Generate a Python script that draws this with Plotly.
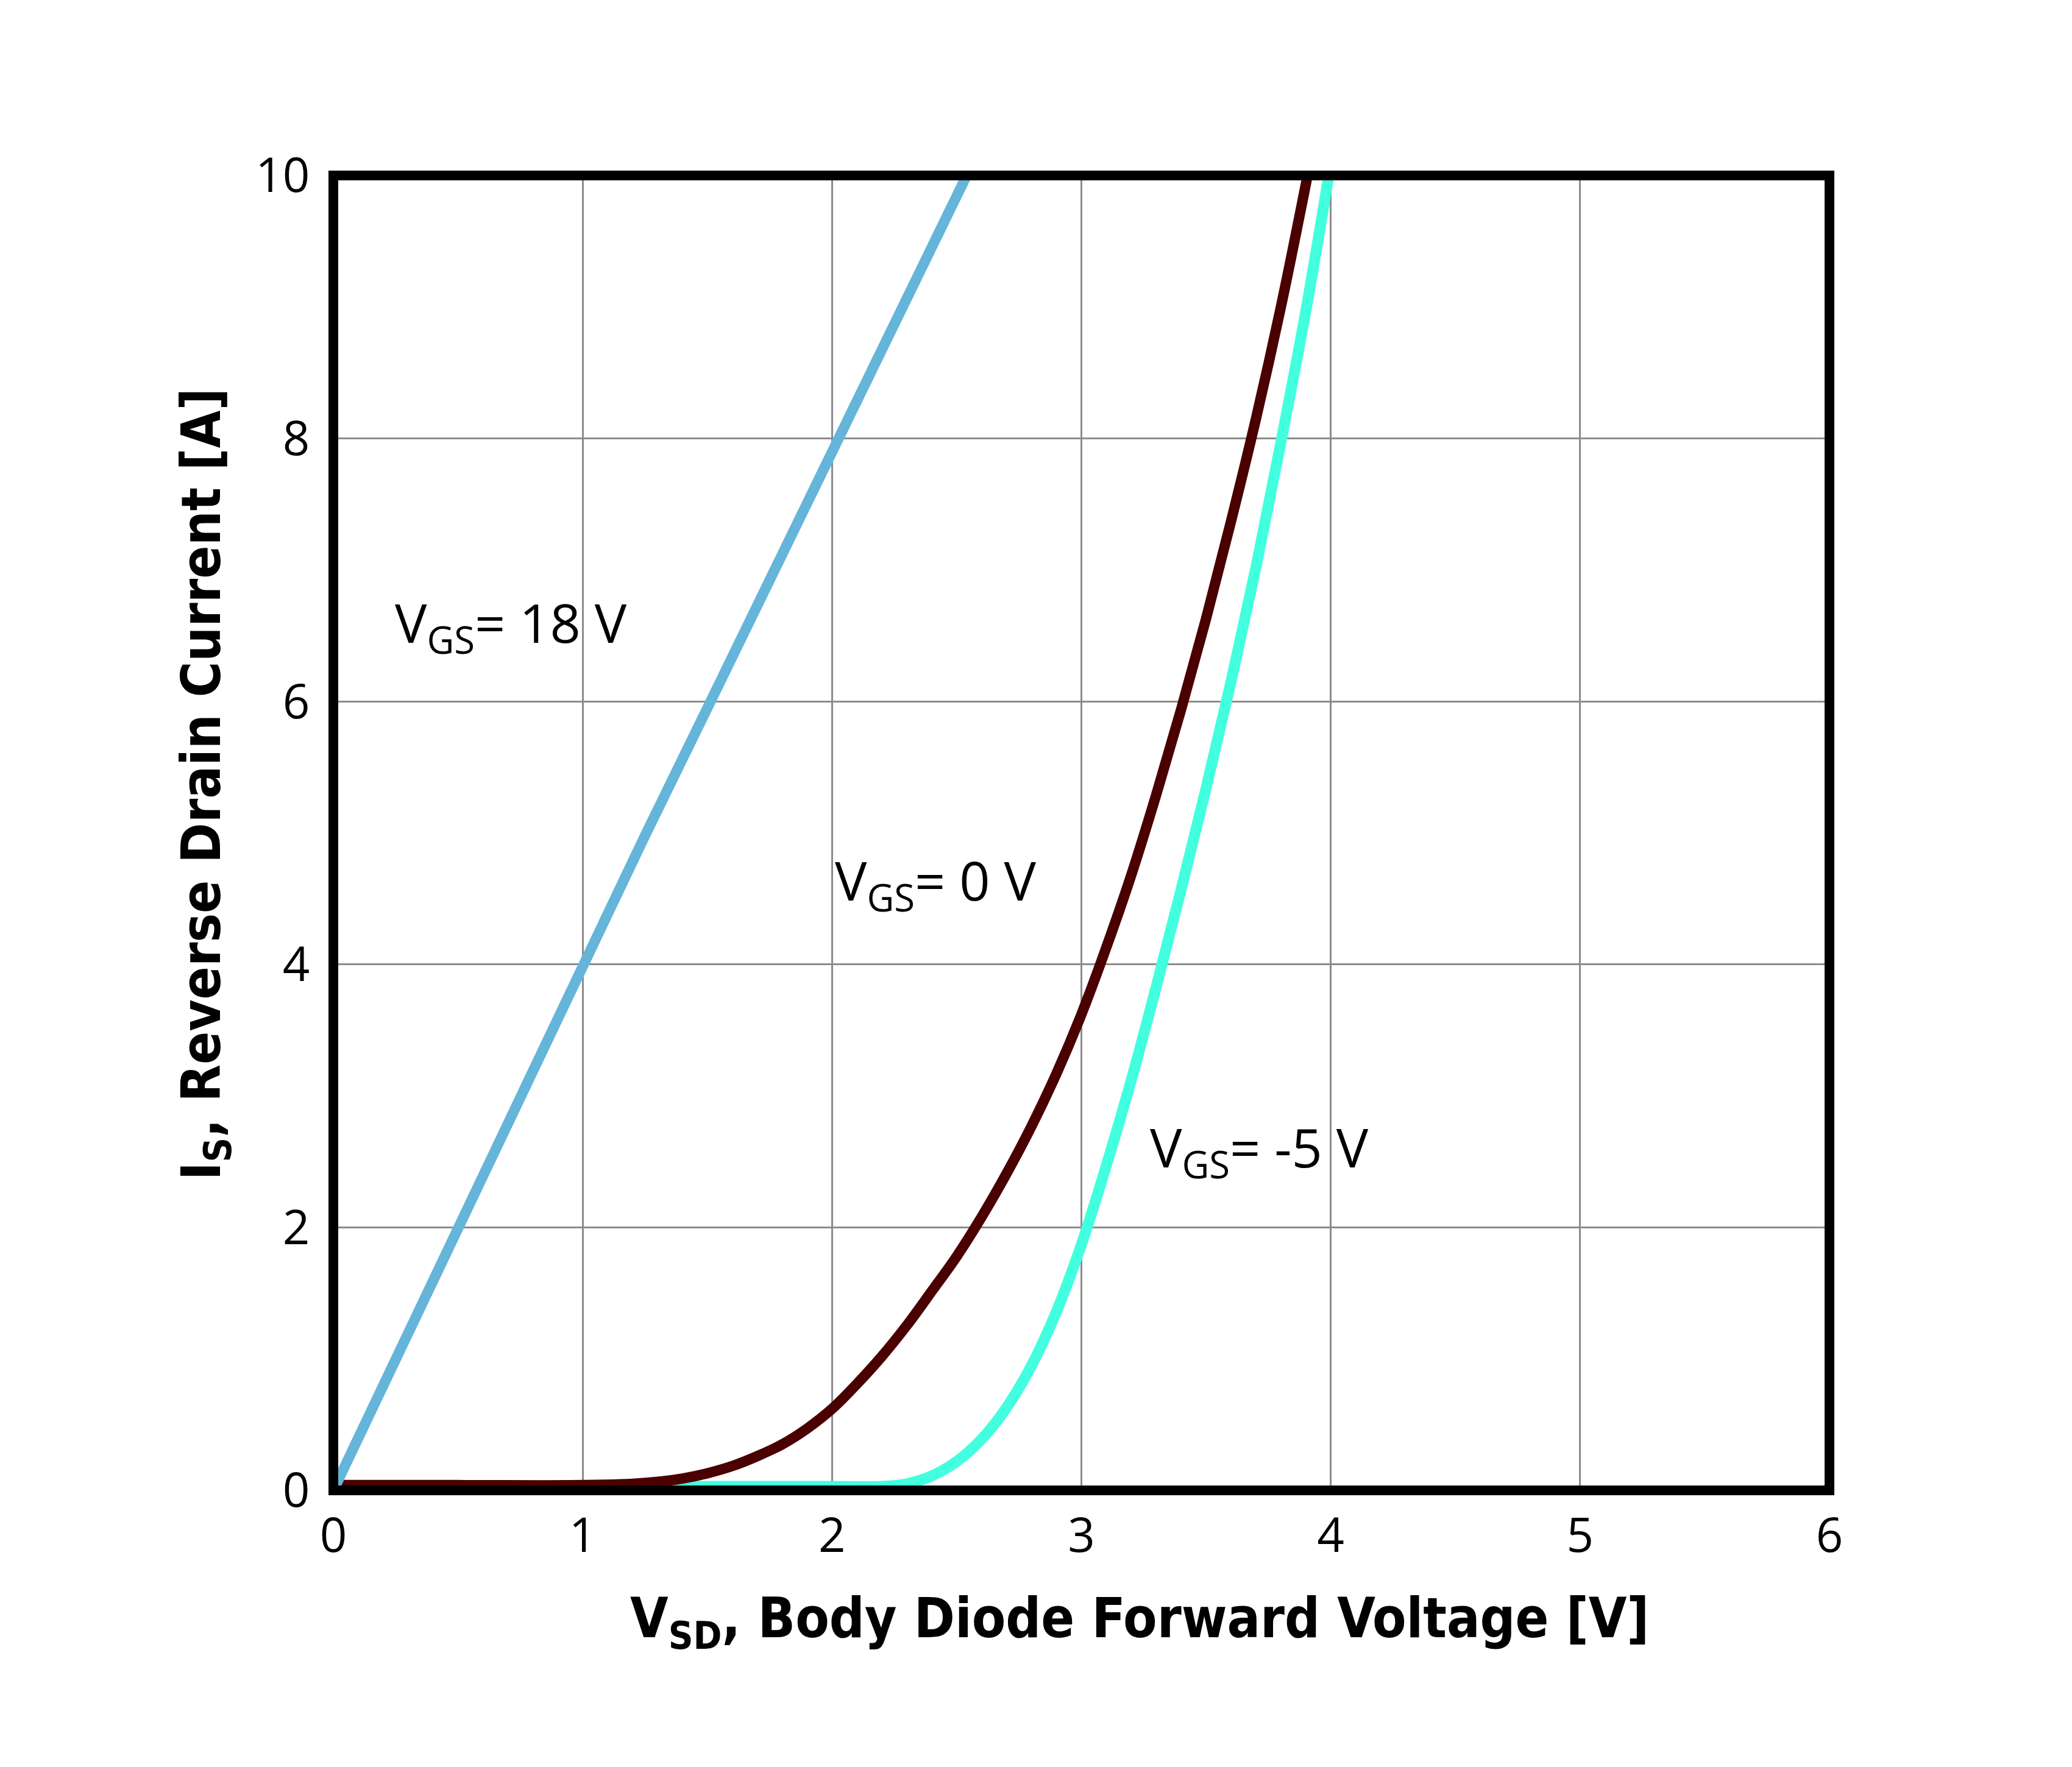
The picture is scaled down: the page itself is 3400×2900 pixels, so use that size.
import plotly.graph_objects as go

# ---- data ----
vsd_18 = [0, 0.25, 0.5, 0.75, 1.0, 1.25, 1.5, 1.75, 2.0, 2.25, 2.54]
is_18 = [0, 1.0, 2.0, 3.0, 4.0, 4.98, 5.95, 6.92, 7.92, 8.88, 10.0]

vsd_0 = [0, 0.5, 1.0, 1.2, 1.3, 1.4, 1.5, 1.6, 1.7, 1.8, 1.9, 2.0, 2.1, 2.2, 2.3,
         2.4, 2.5, 2.6, 2.7, 2.8, 2.9, 3.0, 3.1, 3.2, 3.3, 3.4, 3.5, 3.6, 3.7,
         3.8, 3.907]
is_0 = [0.04, 0.04, 0.04, 0.05, 0.065, 0.09, 0.13, 0.185, 0.26, 0.35, 0.47, 0.62,
        0.81, 1.02, 1.255, 1.515, 1.78, 2.08, 2.41, 2.77, 3.17, 3.62, 4.13, 4.68,
        5.29, 5.94, 6.63, 7.37, 8.15, 9.0, 10.0]

vsd_m5 = [0, 1.0, 1.5, 2.0, 2.2, 2.3, 2.4, 2.5, 2.6, 2.7, 2.8, 2.9, 3.0, 3.1,
          3.2, 3.3, 3.4, 3.5, 3.6, 3.7, 3.8, 3.9, 3.992]
is_m5 = [0.03, 0.03, 0.03, 0.03, 0.03, 0.05, 0.11, 0.22, 0.39, 0.63, 0.95, 1.36, 1.87,
         2.47, 3.12, 3.83, 4.57, 5.34, 6.15, 7.02, 7.97, 8.97, 10.0]

x_ticks = [0, 1, 2, 3, 4, 5, 6]
y_ticks = [0, 2, 4, 6, 8, 10]

labels = ["V<sub>GS</sub>= 18 V", "V<sub>GS</sub>= 0 V", "V<sub>GS</sub>= -5 V"]
label_x = [0.242, 2.006, 3.27]
label_y = [6.58, 4.62, 2.59]

x_title = "V<sub>SD</sub>, Body Diode Forward Voltage [V]"
y_title = "I<sub>S</sub>, Reverse Drain Current [A]"

FONT = "Open Sans"
TITLE_FONT = "Liberation Sans Narrow, DejaVu Sans Condensed, Open Sans"

fig = go.Figure()
fig.add_trace(go.Scatter(x=vsd_m5, y=is_m5, mode="lines",
                         line=dict(color="#42FFDF", width=18, shape="spline", smoothing=1.0),
                         showlegend=False))
fig.add_trace(go.Scatter(x=vsd_0, y=is_0, mode="lines",
                         line=dict(color="#4A0000", width=17, shape="spline", smoothing=1.0),
                         showlegend=False))
fig.add_trace(go.Scatter(x=vsd_18, y=is_18, mode="lines",
                         line=dict(color="#64B5D9", width=17), showlegend=False))

for t, lx, ly in zip(labels, label_x, label_y):
    fig.add_annotation(x=lx, y=ly, xref="x", yref="y", text=t, showarrow=False,
                       xanchor="left", yanchor="middle",
                       font=dict(family=FONT, size=88, color="black"))

fig.add_annotation(x=0.539, y=-0.10, xref="paper", yref="paper", text="<b>" + x_title + "</b>",
                   showarrow=False, xanchor="center", yanchor="middle",
                   font=dict(family=TITLE_FONT, size=90, color="black"))
fig.add_annotation(x=-0.086, y=0.537, xref="paper", yref="paper", text="<b>" + y_title + "</b>",
                   showarrow=False, xanchor="center", yanchor="middle", textangle=-90,
                   font=dict(family=TITLE_FONT, size=89, color="black"))

# frame
fig.add_shape(type="rect", xref="paper", yref="paper", x0=0, x1=1, y0=0, y1=1,
              line=dict(color="black", width=16), layer="above")

fig.update_xaxes(range=[0, 6], tickvals=x_ticks, ticktext=[str(v) for v in x_ticks],
                 showgrid=True, gridcolor="#8C8C8C", gridwidth=3, zeroline=False,
                 showline=False, ticks="outside", ticklen=6, tickcolor="rgba(0,0,0,0)",
                 tickfont=dict(family=FONT, size=78, color="black"))
fig.update_yaxes(range=[0, 10], tickvals=y_ticks, ticktext=[str(v) for v in y_ticks],
                 showgrid=True, gridcolor="#8C8C8C", gridwidth=3, zeroline=False,
                 showline=False, ticks="outside", ticklen=22, tickcolor="rgba(0,0,0,0)",
                 tickfont=dict(family=FONT, size=78, color="black"))

fig.update_layout(width=3400, height=2900,
                  margin=dict(l=547, r=398, t=288, b=454),
                  plot_bgcolor="white", paper_bgcolor="white")

fig.write_html("out.html")
